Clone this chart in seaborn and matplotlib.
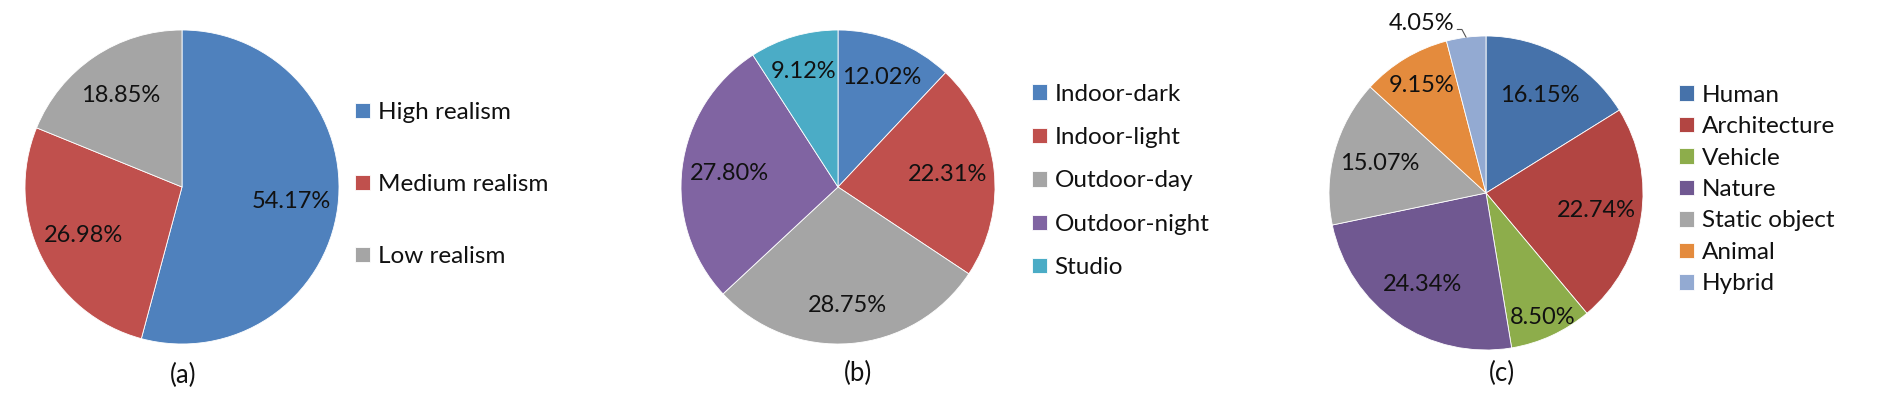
import numpy as np
import matplotlib.pyplot as plt
import seaborn as sns

# data
realism_labels = ['High realism', 'Medium realism', 'Low realism']
realism_values = [54.17, 26.98, 18.85]

scene_labels = ['Indoor-dark', 'Indoor-light', 'Outdoor-day', 'Outdoor-night', 'Studio']
scene_values = [12.02, 22.31, 28.75, 27.80, 9.12]

content_labels = ['Human', 'Architecture', 'Vehicle', 'Nature', 'Static object', 'Animal', 'Hybrid']
content_values = [16.15, 22.74, 8.50, 24.34, 15.07, 9.15, 4.05]

# colours (office style)
realism_colors = sns.color_palette(['#4F81BD', '#C0504D', '#A5A5A5'])
scene_colors = sns.color_palette(['#4F81BD', '#C0504D', '#A5A5A5', '#8064A2', '#4BACC6'])
content_colors = sns.color_palette(['#4672AA', '#B24542', '#8DAD4B', '#705891',
                                    '#A6A6A6', '#E48B3D', '#93AAD2'])

sns.set_style('white')
plt.rcParams['font.family'] = ['Lato', 'DejaVu Sans']

W, H = 1879, 399
R = 157  # pie radius in px
LIM = 1.3

fig = plt.figure(figsize=(W / 100, H / 100), dpi=100)


def pie_axes(cx, cy):
    # cx, cy = pie centre in px, measured from the top-left corner
    half = LIM * R
    return fig.add_axes([(cx - half) / W, (H - cy - half) / H, 2 * half / W, 2 * half / H])


def draw_pie(ax, values, labels, colors, dists):
    wedges, _, autotexts = ax.pie(values, colors=colors, startangle=90, counterclock=False,
                                  autopct='%.2f%%', pctdistance=0.7,
                                  wedgeprops=dict(edgecolor='white', linewidth=0.6),
                                  textprops=dict(fontsize=17, color='#111111'))
    for w, t, v, d in zip(wedges, autotexts, values, dists):
        ang = np.deg2rad((w.theta1 + w.theta2) / 2)
        t.set_text(f'{v:.2f}%')
        t.set_position((d * np.cos(ang), d * np.sin(ang)))
    ax.set_xlim(-LIM, LIM)
    ax.set_ylim(-LIM, LIM)
    ax.axis('off')
    return wedges, autotexts


def add_legend(ax, wedges, labels, x, y, spacing):
    ax.legend(wedges, labels, loc='center left', bbox_to_anchor=(x / W, 1 - y / H),
              bbox_transform=fig.transFigure, frameon=False, fontsize=17.5,
              labelcolor='#111111', handlelength=0.6, handleheight=0.6,
              handletextpad=0.33, labelspacing=spacing, borderpad=0, borderaxespad=0)


# (a)
ax1 = pie_axes(182, 187)
w1, _ = draw_pie(ax1, realism_values, realism_labels, realism_colors, [0.7] * 3)
add_legend(ax1, w1, realism_labels, 355, 184.5, 2.1)
fig.text(183 / W, 1 - 375 / H, '(a)', ha='center', va='center', fontsize=18.5, color='#111111')

# (b)
ax2 = pie_axes(838, 187)
w2, _ = draw_pie(ax2, scene_values, scene_labels, scene_colors, [0.75, 0.7, 0.76, 0.7, 0.77])
add_legend(ax2, w2, scene_labels, 1032, 181, 0.92)
fig.text(858 / W, 1 - 373 / H, '(b)', ha='center', va='center', fontsize=18.5, color='#111111')

# (c)
ax3 = pie_axes(1486, 193)
w3, t3 = draw_pie(ax3, content_values, content_labels, content_colors,
                  [0.71, 0.71, 0.87, 0.71, 0.7, 0.8, 0.7])
# small slice label sits outside with a leader line
hw = w3[-1]
ang = np.deg2rad((hw.theta1 + hw.theta2) / 2)
x0, y0 = np.cos(ang), np.sin(ang)
x1, y1 = 1.05 * x0 - 0.02, 1.05 * y0
ax3.plot([x0, x1, x1 - 0.03], [y0, y1, y1], color='#555555', lw=0.8)
t3[-1].set_position((x1 - 0.05, y1 + 0.04))
t3[-1].set_ha('right')
add_legend(ax3, w3, content_labels, 1679, 189.5, 0.43)
fig.text(1502 / W, 1 - 373 / H, '(c)', ha='center', va='center', fontsize=18.5, color='#111111')

fig.savefig('out.png', dpi=100)
